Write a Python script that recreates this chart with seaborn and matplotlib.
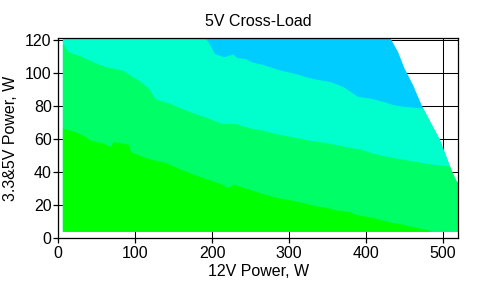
import matplotlib
matplotlib.use("Agg")
import matplotlib.pyplot as plt
import seaborn as sns
from matplotlib.patches import Polygon

# ---- data ----
# outer limit of tested load region (12V W, 3.3&5V W)
limit_x = [430.5, 432, 441.6, 450, 461, 473, 482.7, 495.7, 503.5, 512, 518, 520]
limit_y = [121.2, 121, 113, 103, 93, 80, 71.3, 60, 50.6, 40, 34.3, 34]
region_xmin = 6
region_ymin = 4
region_ymax = 121.2

# lower edge of the blue zone
blue_x = [0, 191, 195, 203, 215, 227, 232, 243, 251, 268, 288, 307, 329, 353, 370,
          389, 405, 422, 435, 448, 473, 520]
blue_y = [122, 121, 119, 112, 110, 111.7, 109.5, 109, 107, 105, 102, 100, 97, 95, 92,
          86, 85, 83, 81, 80, 79, 79]

# lower edge of the teal zone
teal_x = [0, 6, 13, 26, 37, 50, 61, 72, 84, 95, 107, 117, 126, 145, 158, 171, 186,
          201, 212, 230, 251, 264, 281, 303, 324, 346, 364, 381, 393, 409, 429, 441,
          459, 472, 485, 520]
teal_y = [118, 118, 113, 111, 108.7, 106, 104, 103, 101.8, 98.4, 95, 91, 84.5, 81.8,
          79.2, 76.7, 74.3, 71.7, 69.7, 69.5, 66.7, 65.7, 63.6, 61.6, 59.6, 58.2, 56.5,
          54.9, 54, 51.5, 49.5, 48.5, 47, 46, 45, 43]

# lower edge of the medium-green zone (top of bright green)
green_x = [0, 6, 14, 24, 34, 41, 58, 68, 71, 91, 94, 107, 120, 126, 139, 156, 169,
           182, 195, 203, 212, 221, 227, 238, 251, 263, 277, 290, 303, 312, 325, 336,
           349, 362, 379, 385, 398, 409, 422, 433, 448, 457, 471, 482, 488, 520]
green_y = [66.7, 66.7, 65.7, 64.2, 62, 59.6, 57.6, 55.6, 58.7, 57, 52.5, 50, 48, 47.3,
           46, 42.4, 40, 37.8, 35.7, 34.3, 32.9, 30.7, 32.9, 31.3, 29.3, 27.5, 25.6,
           24.2, 23.2, 22.2, 20.8, 19.6, 18.6, 17.1, 16.2, 14.7, 13.5, 12.5, 11, 9.7,
           8.5, 7.5, 6.1, 5, 3.5, 3.5]

zone_colors = ["#00CCFF", "#00FFCC", "#00FF66", "#00FF00"]

x_ticks = [0, 100, 200, 300, 400, 500]
y_ticks = [0, 20, 40, 60, 80, 100, 120]

# ---- style ----
sns.set_theme(style="ticks")
plt.rcParams['font.family'] = ['Liberation Sans', 'DejaVu Sans']
plt.rcParams['font.size'] = 11.5

fig = plt.figure(figsize=(4.87, 2.86), dpi=100)
ax = fig.add_axes([58.3 / 487, 1 - 238.3 / 286, 400 / 487, 200 / 286])
ax.set_xlim(0, 520)
ax.set_ylim(0, 121.2)

# clip region
verts = [(region_xmin, region_ymin), (520, region_ymin)]
verts += list(zip(limit_x[::-1], limit_y[::-1]))
verts += [(region_xmin, region_ymax)]
clip = Polygon(verts, closed=True, transform=ax.transData,
               facecolor="none", edgecolor="none")
ax.add_patch(clip)

layers = [
    ([0, 520], [region_ymax, region_ymax]),
    (blue_x, blue_y),
    (teal_x, teal_y),
    (green_x, green_y),
]
for (bx, by), col in zip(layers, zone_colors):
    coll = ax.fill_between(bx, 0, by, color=col, linewidth=0, zorder=2,
                           antialiased=False)
    coll.set_clip_path(clip)

ax.set_axisbelow(True)
ax.grid(True, color="black", linewidth=0.75)
ax.set_xticks(x_ticks)
ax.set_yticks(y_ticks)
for s in ax.spines.values():
    s.set_color("black")
    s.set_linewidth(0.9)
    s.set_visible(True)
    s.set_zorder(5)
ax.tick_params(direction="out", length=3.8, width=0.9, color="black",
               labelcolor="black", labelsize=11.5)
ax.tick_params(axis="y", pad=1)
ax.tick_params(axis="x", pad=2)

ax.set_title("5V Cross-Load", fontsize=11.5, color="black", pad=9)
ax.set_xlabel("12V Power, W", fontsize=11.5, color="black", labelpad=2)
ax.set_ylabel("3.3&5V Power, W", fontsize=11.5, color="black", labelpad=5)

fig.savefig("out.png", dpi=100, facecolor="white")
